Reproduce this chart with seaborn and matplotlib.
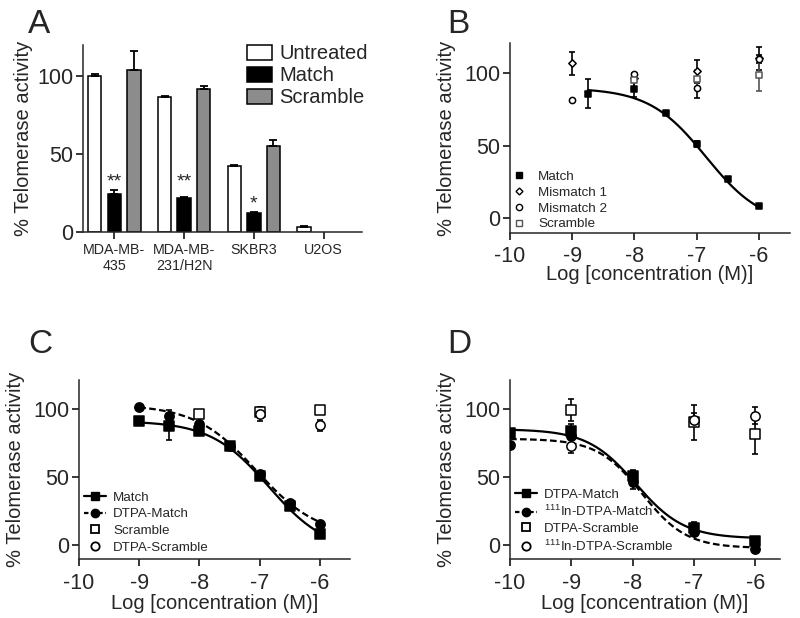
import numpy as np
import pandas as pd
import matplotlib
matplotlib.use("Agg")
import matplotlib.pyplot as plt
import seaborn as sns
from matplotlib.lines import Line2D

# ---- panel A: bar chart
cells = ["MDA-MB-\n435", "MDA-MB-\n231/H2N", "SKBR3", "U2OS"]
treatments = ["Untreated", "Match", "Scramble"]
untreated = [100, 86.5, 42.5, 3.5]
untreated_err = [1.5, 0.5, 0.5, 0.6]
match = [24.5, 22, 12, np.nan]
match_err = [2.5, 0.4, 1, np.nan]
scramble = [104, 91.5, 55, np.nan]
scramble_err = [12, 2, 4, np.nan]
stars = ["**", "**", "*", ""]
star_y = [32, 32, 18, 0]

# ---- panel B
b_match_x = [-8.75, -8, -7.5, -7, -6.5, -6]
b_match_y = [86, 89, 72.5, 51.5, 27, 8.5]
b_match_err = [10, 5, 1, 2, 1, 1]
b_mm1_x = [-9, -8, -7, -6]
b_mm1_y = [107, 97, 101.5, 110.5]
b_mm1_err = [8, 3, 8, 8]
b_mm2_x = [-9, -8, -7, -6]
b_mm2_y = [82, 99.5, 90, 110]
b_mm2_err = [0, 1, 7, 3]
b_scr_x = [-8, -7, -6]
b_scr_y = [95.5, 96.5, 99]
b_scr_err = [5, 6, 11]
b_fit = dict(top=90, bottom=-5, logec50=-6.85, hill=0.95, start=-8.75, end=-6)

# ---- panel C
c_match_x = [-9, -8.5, -8, -7.5, -7, -6.5, -6]
c_match_y = [91, 87, 84, 72.5, 51, 29, 8.5]
c_match_err = [1, 10, 2, 1, 1, 2, 1]
c_dmatch_x = [-9, -8.5, -8, -7.5, -7, -6.5, -6]
c_dmatch_y = [101, 95, 89, 73, 52, 31, 15.5]
c_dmatch_err = [1, 4, 2, 1, 1, 2, 1]
c_scr_x = [-8, -7, -6]
c_scr_y = [96, 97.5, 99]
c_scr_err = [1, 4, 1]
c_dscr_x = [-7, -6]
c_dscr_y = [96, 88]
c_dscr_err = [5, 4]
c_fit_match = dict(top=91, bottom=-5, logec50=-6.85, hill=0.9, start=-9, end=-6)
c_fit_dmatch = dict(top=103, bottom=6, logec50=-7.05, hill=0.85, start=-9, end=-6)

# ---- panel D
d_match_x = [-10, -9, -8, -7, -6]
d_match_y = [82, 84, 50.5, 13, 3.5]
d_match_err = [1, 5, 5, 4, 2]
d_imatch_x = [-10, -9, -8, -7, -6]
d_imatch_y = [73.5, 80, 46, 10, -2.5]
d_imatch_err = [1, 5, 5, 3, 2]
d_scr_x = [-9, -7, -6]
d_scr_y = [99, 90, 81.5]
d_scr_err = [8, 13, 15]
d_iscr_x = [-9, -7, -6]
d_iscr_y = [72.5, 92, 95]
d_iscr_err = [5, 5, 6]
d_fit_match = dict(top=85, bottom=5, logec50=-7.95, hill=1.1, start=-10, end=-6)
d_fit_imatch = dict(top=78, bottom=-2, logec50=-7.85, hill=1.2, start=-10, end=-6)

sns.set_style("ticks")
plt.rcParams['font.family'] = ['Liberation Sans', 'DejaVu Sans']
plt.rcParams['mathtext.default'] = 'regular'
plt.rcParams['axes.linewidth'] = 1.1
plt.rcParams['axes.unicode_minus'] = False

fig = plt.figure(figsize=(8, 6.18), dpi=100)
axA = fig.add_axes([83/800, 1-232/618, 279/800, 187/618])
axB = fig.add_axes([510/800, 1-233/618, 280/800, 190/618])
axC = fig.add_axes([79/800, 1-559/618, 271/800, 179/618])
axD = fig.add_axes([510/800, 1-559/618, 270/800, 179/618])

TICK = 15.5
LAB = 14.5


def style_axis(ax):
    sns.despine(ax=ax)
    ax.tick_params(labelsize=TICK, length=5, width=1.1, pad=2, color='black')
    ax.tick_params(axis='x', pad=5)
    ax.set_ylabel("% Telomerase activity", fontsize=LAB, labelpad=6)


# panel A
df = pd.DataFrame({
    "cell": cells * 3,
    "treatment": np.repeat(treatments, len(cells)),
    "value": untreated + match + scramble,
})
errs = {"Untreated": untreated_err, "Match": match_err, "Scramble": scramble_err}
sns.barplot(data=df, x="cell", y="value", hue="treatment", order=cells, hue_order=treatments,
            palette=["white", "black", "#8c8c8c"], edgecolor="black", linewidth=1.1,
            width=0.84, gap=0.32, errorbar=None, ax=axA)
for cont, t in zip(axA.containers, treatments):
    for bar in cont:
        if np.isnan(bar.get_height()):
            continue
        i = int(round(bar.get_x() + bar.get_width()/2))
        xc = bar.get_x() + bar.get_width()/2
        axA.errorbar(xc, bar.get_height(), yerr=[[0], [errs[t][i]]], fmt='none',
                     ecolor='black', elinewidth=1.3, capsize=3, capthick=1.3, zorder=1)
        if t == "Match" and stars[i]:
            axA.text(xc, star_y[i], stars[i], ha='center', va='center', fontsize=14)
axA.set_ylim(0, 120)
axA.set_xlim(-0.45, 3.55)
axA.set_yticks([0, 50, 100])
style_axis(axA)
axA.set_ylabel("% Telomerase activity", fontsize=LAB, labelpad=3)
axA.tick_params(axis='x', labelsize=10.3, pad=3)
axA.set_xlabel("")
leg = axA.legend(loc='upper right', bbox_to_anchor=(1.085, 1.1), frameon=False, fontsize=LAB,
                 handlelength=1.25, handleheight=0.75, handletextpad=0.35, labelspacing=0.15)
for h in leg.legend_handles:
    h.set_edgecolor('black')
    h.set_linewidth(1.1)


def curve(ax, p, ls):
    xs = np.linspace(p['start'], p['end'], 200)
    ys = p['bottom'] + (p['top'] - p['bottom']) / (1 + 10 ** ((xs - p['logec50']) * p['hill']))
    sns.lineplot(x=xs, y=ys, ax=ax, color='black', linestyle=ls, linewidth=1.6, zorder=2)


def points(ax, x, y, err, marker, face, s, edge='black'):
    ax.errorbar(x, y, yerr=err, fmt='none', ecolor=edge, elinewidth=1.2, capsize=2.5,
                capthick=1.2, zorder=1)
    sns.scatterplot(x=x, y=y, ax=ax, marker=marker, color=face, edgecolor=edge,
                    linewidth=1.1, s=s, zorder=3)


def conc_axis(ax, xmax, labelpad=0, xpad=5):
    ax.set_xlim(-10, xmax)
    ax.set_ylim(-10, 121)
    ax.set_xticks([-10, -9, -8, -7, -6])
    ax.set_yticks([0, 50, 100])
    style_axis(ax)
    ax.tick_params(axis='x', pad=xpad)
    ax.set_xlabel("Log [concentration (M)]", fontsize=LAB, labelpad=labelpad)


# panel B
curve(axB, b_fit, '-')
points(axB, b_mm1_x, b_mm1_y, b_mm1_err, 'D', 'white', 14)
points(axB, b_mm2_x, b_mm2_y, b_mm2_err, 'o', 'white', 20)
points(axB, b_scr_x, b_scr_y, b_scr_err, 's', 'white', 20, edge='#555555')
points(axB, b_match_x, b_match_y, b_match_err, 's', 'black', 24)
conc_axis(axB, -5.5, labelpad=-1, xpad=4)
hB = [Line2D([], [], ls='none', marker='s', color='black', markersize=4.5),
      Line2D([], [], ls='none', marker='D', mfc='white', mec='black', markersize=3.5),
      Line2D([], [], ls='none', marker='o', mfc='white', mec='black', markersize=4.5),
      Line2D([], [], ls='none', marker='s', mfc='white', mec='#555555', markersize=4.5)]
axB.legend(hB, ["Match", "Mismatch 1", "Mismatch 2", "Scramble"], loc='lower left',
           bbox_to_anchor=(0.0, 0.0), frameon=False, fontsize=9.7, handlelength=1.0,
           handletextpad=0.9, labelspacing=0.25, borderaxespad=0.0, borderpad=0.2)

# panel C
curve(axC, c_fit_match, '-')
curve(axC, c_fit_dmatch, (0, (3, 1.5)))
points(axC, c_scr_x, c_scr_y, c_scr_err, 's', 'white', 45)
points(axC, c_dscr_x, c_dscr_y, c_dscr_err, 'o', 'white', 45)
points(axC, c_match_x, c_match_y, c_match_err, 's', 'black', 45)
points(axC, c_dmatch_x, c_dmatch_y, c_dmatch_err, 'o', 'black', 45)
conc_axis(axC, -5.5)
hC = [Line2D([], [], ls='-', marker='s', color='black', markersize=6, lw=1.6),
      Line2D([], [], ls=(0, (2, 1.2)), marker='o', color='black', markersize=6, lw=1.6),
      Line2D([], [], ls='none', marker='s', mfc='white', mec='black', markersize=6, mew=1.3),
      Line2D([], [], ls='none', marker='o', mfc='white', mec='black', markersize=6, mew=1.3)]
axC.legend(hC, ["Match", "DTPA-Match", "Scramble", "DTPA-Scramble"], loc='lower left',
           bbox_to_anchor=(0.0, 0.0), frameon=False, fontsize=9.6, handlelength=1.65,
           handletextpad=0.5, labelspacing=0.32, borderaxespad=0.1, borderpad=0.3)

# panel D
curve(axD, d_fit_match, '-')
curve(axD, d_fit_imatch, (0, (3, 1.5)))
points(axD, d_scr_x, d_scr_y, d_scr_err, 's', 'white', 45)
points(axD, d_iscr_x, d_iscr_y, d_iscr_err, 'o', 'white', 45)
points(axD, d_match_x, d_match_y, d_match_err, 's', 'black', 45)
points(axD, d_imatch_x, d_imatch_y, d_imatch_err, 'o', 'black', 45)
conc_axis(axD, -5.6)
axD.legend(hC, ["DTPA-Match", "$^{111}$In-DTPA-Match", "DTPA-Scramble", "$^{111}$In-DTPA-Scramble"],
           loc='lower left', bbox_to_anchor=(0.0, 0.0), frameon=False, fontsize=9.6,
           handlelength=1.65, handletextpad=0.5, labelspacing=0.25, borderaxespad=0.1, borderpad=0.3)

# panel letters
for lab, x, y in [("A", 28, 33), ("B", 447, 33), ("C", 28, 353), ("D", 447, 353)]:
    fig.text(x/800, 1 - y/618, lab, fontsize=24, ha='left', va='baseline')

fig.savefig("out.png", dpi=100)
